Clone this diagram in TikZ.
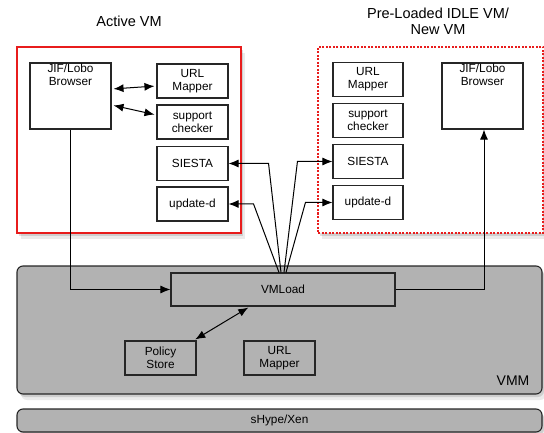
\documentclass[tikz,border=0pt]{standalone}
\usepackage{fontspec}
\setmainfont{Liberation Sans}
\usetikzlibrary{arrows.meta,shadows}
\definecolor{vmred}{RGB}{232,28,28}

\begin{document}
\begin{tikzpicture}[x=1pt,y=-1pt,
    every node/.style={font=\fontsize{11.8}{13}\selectfont},
    comp/.style={draw=black!85,line width=1.1pt,minimum width=71,minimum height=34,align=center,inner sep=1pt},
    browser/.style={draw=black!85,line width=1.1pt,minimum width=81,minimum height=66},
    vmbox/.style={fill=white,minimum width=224,minimum height=186,
        general shadow={fill=black,opacity=.12,shadow xshift=2pt,shadow yshift=-3pt},
        general shadow={fill=black,opacity=.08,shadow xshift=4pt,shadow yshift=-6pt}},
    layer/.style={draw=black!85,fill=black!30,line width=1.1pt,rounded corners=6pt,minimum width=525,
        general shadow={fill=black,opacity=.12,shadow xshift=2pt,shadow yshift=-3pt},
        general shadow={fill=black,opacity=.08,shadow xshift=4pt,shadow yshift=-6pt}},
    title/.style={font=\fontsize{14.5}{16}\selectfont,align=center},
    arr/.style={line width=1pt,-{Latex[length=10pt,width=8pt]}},
    darr/.style={line width=1pt,{Latex[length=10pt,width=8pt]}-{Latex[length=10pt,width=8pt]},shorten <=2pt,shorten >=2pt}]
    \useasboundingbox (0,0) rectangle (544,433);

    % virtual machines
    \node[title] (actt) at (129,21) {Active VM};
    \node[title] (newt) at (438,21) {Pre-Loaded IDLE VM/\\New VM};
    \node[vmbox,draw=vmred,line width=1.3pt] (actvm) at (129,140) {};
    \node[vmbox,draw=vmred,line width=1.2pt,minimum width=225,dash pattern=on 2pt off 1.5pt] (newvm) at (430.5,140) {};

    \node[browser,label={[anchor=north,align=center,inner sep=1.5pt]north:JIF/Lobo\\Browser}] (lbrow) at (70.5,96) {};
    \node[comp] (lurl) at (192.5,81) {URL\\Mapper};
    \node[comp] (lchk) at (192.5,122) {support\\checker};
    \node[comp] (lsie) at (192.5,163.5) {SIESTA};
    \node[comp] (lupd) at (192.5,204) {update-d};

    \node[comp,minimum width=70] (rurl) at (368,79.5) {URL\\Mapper};
    \node[comp,minimum width=70] (rchk) at (368,120.5) {support\\checker};
    \node[comp,minimum width=70] (rsie) at (368,161.5) {SIESTA};
    \node[comp,minimum width=70] (rupd) at (368,202.5) {update-d};
    \node[browser,label={[anchor=north,align=center,inner sep=1.5pt]north:JIF/Lobo\\Browser}] (rbrow) at (482.5,96) {};

    % VMM and hypervisor
    \node[layer,minimum height=128] (vmm) at (279.5,330) {};
    \node[font=\fontsize{14}{16}\selectfont,anchor=south east,inner sep=0pt] (vmmt) at ([xshift=-13pt,yshift=9pt]vmm.south east) {VMM};
    \node[layer,minimum height=23] (xen) at (279.5,420.5) {sHype/Xen};
    \node[comp,minimum width=224,minimum height=33] (vml) at (283,289.5) {VMLoad};
    \node[comp] (pol) at (160.5,358) {Policy\\Store};
    \node[comp] (murl) at (279.5,358) {URL\\Mapper};

    % connectors
    \draw[darr] ([yshift=7pt]lbrow.east) -- ([yshift=-5pt]lurl.west);
    \draw[darr] ([yshift=-9pt]lbrow.east) -- ([yshift=7pt]lchk.west);
    \draw[arr] (lbrow.south) |- (vml.west);
    \draw[arr] (vml.east) -| ([xshift=1.5pt]rbrow.south);
    \draw[darr] ([xshift=-3pt]pol.north east) -- ([xshift=-33pt]vml.south);
    \draw[arr] ([xshift=-4pt]vml.north) -- ([xshift=25pt]lupd.east) -- (lupd.east);
    \draw[arr] ([xshift=-2pt]vml.north) -- ([xshift=40pt]lsie.east) -- (lsie.east);
    \draw[arr] ([xshift=1pt]vml.north) -- ([xshift=-35pt]rsie.west) -- (rsie.west);
    \draw[arr] ([xshift=3pt]vml.north) -- ([xshift=-27pt]rupd.west) -- (rupd.west);
\end{tikzpicture}
\end{document}
